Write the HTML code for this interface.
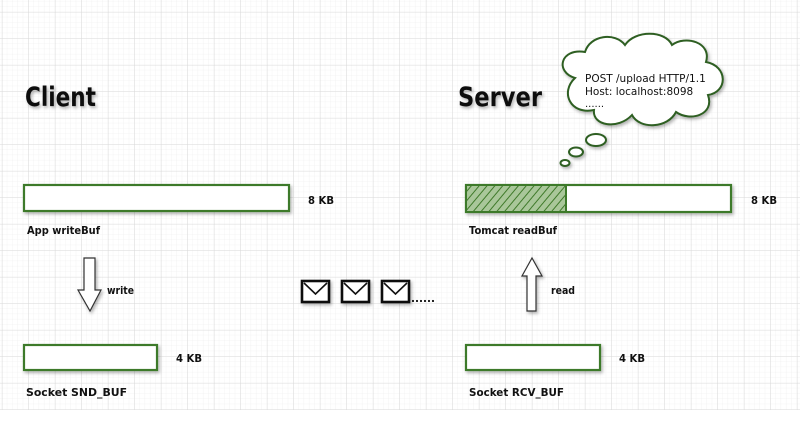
<!DOCTYPE html>
<html><head><meta charset="utf-8"><style>
html,body{margin:0;padding:0;background:#fff}
svg{display:block}
text{font-family:"DejaVu Sans","Liberation Sans",sans-serif;fill:#111}
.l{font-weight:bold;font-size:10.5px}
</style></head><body>
<svg width="811" height="423" viewBox="0 0 811 423" xmlns="http://www.w3.org/2000/svg">
<defs>
<pattern id="minor" x="2" y="12" width="5.3" height="5.3" patternUnits="userSpaceOnUse">
<path d="M5.3 0V5.3M0 5.3H5.3" stroke="#ececec" stroke-width="0.6" fill="none"/>
</pattern>
<pattern id="major" x="2" y="12" width="26.5" height="26.5" patternUnits="userSpaceOnUse">
<path d="M0 0V26.5M0 0H26.5" stroke="#d8d8d8" stroke-width="0.8" fill="none"/>
</pattern>
<pattern id="hatch" width="6" height="6" patternUnits="userSpaceOnUse" patternTransform="rotate(40)">
<rect width="6" height="6" fill="#a9c79a"/>
<line x1="0" y1="0" x2="0" y2="6" stroke="#3f7a2a" stroke-width="2"/>
</pattern>
<filter id="sh" x="-10%" y="-20%" width="130%" height="150%"><feDropShadow dx="1.5" dy="2" stdDeviation="1.5" flood-color="#000" flood-opacity="0.3"/></filter>
</defs>
<rect x="0" y="0" width="800" height="410" fill="url(#minor)"/>
<rect x="0" y="0" width="800" height="410" fill="url(#major)"/>

<text x="25" y="106" font-size="27" font-weight="bold" textLength="71" lengthAdjust="spacingAndGlyphs" filter="url(#sh)">Client</text>
<text x="458" y="106" font-size="27" font-weight="bold" textLength="84" lengthAdjust="spacingAndGlyphs" filter="url(#sh)">Server</text>

<rect x="24" y="185" width="265" height="26" fill="#fff" stroke="#3d7a2a" stroke-width="2.2" filter="url(#sh)"/>
<text x="308" y="204" class="l" textLength="26" lengthAdjust="spacingAndGlyphs">8 KB</text>
<text x="27" y="234" class="l" textLength="73" lengthAdjust="spacingAndGlyphs">App writeBuf</text>

<rect x="466" y="185" width="265" height="27" fill="#fff" stroke="#3d7a2a" stroke-width="2.2" filter="url(#sh)"/>
<rect x="467" y="186" width="99" height="25" fill="url(#hatch)"/>
<line x1="566" y1="185" x2="566" y2="212" stroke="#3d7a2a" stroke-width="2"/>
<text x="751" y="204" class="l" textLength="26" lengthAdjust="spacingAndGlyphs">8 KB</text>
<text x="469" y="234" class="l" textLength="88" lengthAdjust="spacingAndGlyphs">Tomcat readBuf</text>

<g filter="url(#sh)" fill="#fff" stroke="#2e5e22" stroke-width="2">
<path d="M575 78 C555 72 560 48 585 52 C590 35 615 32 625 45 C635 30 665 30 672 45 C685 35 712 42 706 62 C728 66 728 92 708 95 C715 115 690 122 676 112 C668 128 640 130 632 115 C618 130 592 126 594 110 C570 115 560 92 575 78 Z"/>
<ellipse cx="596" cy="140" rx="10" ry="6"/>
<ellipse cx="576" cy="152" rx="7" ry="4.5"/>
<ellipse cx="565" cy="163" rx="4.5" ry="3"/>
</g>
<text x="585" y="82" font-size="10.5" font-family="Liberation Sans">POST /upload HTTP/1.1</text>
<text x="585" y="95" font-size="10.5" font-family="Liberation Sans">Host: localhost:8098</text>
<text x="585" y="107" font-size="10" font-family="Liberation Sans">......</text>

<path d="M84 258 H95 V290 H101 L90 311 L78 290 H84 Z" fill="#fff" stroke="#333" stroke-width="1.2" filter="url(#sh)"/>
<text x="107" y="294" class="l" textLength="27" lengthAdjust="spacingAndGlyphs">write</text>

<path d="M527 311 H536 V276 H542 L532 258 L522 276 H527 Z" fill="#fff" stroke="#333" stroke-width="1.2" filter="url(#sh)"/>
<text x="551" y="294" class="l" textLength="24" lengthAdjust="spacingAndGlyphs">read</text>

<g fill="#fff" stroke="#111" stroke-width="2.6" filter="url(#sh)">
<rect x="302" y="281" width="27" height="21"/>
<rect x="342" y="281" width="27" height="21"/>
<rect x="382" y="281" width="27" height="21"/>
</g>
<g fill="none" stroke="#111" stroke-width="1.6">
<path d="M304 283 L315.5 294 L327 283"/>
<path d="M344 283 L355.5 294 L367 283"/>
<path d="M384 283 L395.5 294 L407 283"/>
</g>
<text x="411" y="302" class="l" font-size="11">......</text>

<rect x="24" y="345" width="133" height="25" fill="#fff" stroke="#3d7a2a" stroke-width="2.2" filter="url(#sh)"/>
<text x="176" y="362" class="l" textLength="26" lengthAdjust="spacingAndGlyphs">4 KB</text>
<text x="26" y="396" class="l" textLength="101" lengthAdjust="spacingAndGlyphs">Socket SND_BUF</text>
<rect x="466" y="345" width="134" height="25" fill="#fff" stroke="#3d7a2a" stroke-width="2.2" filter="url(#sh)"/>
<text x="619" y="362" class="l" textLength="26" lengthAdjust="spacingAndGlyphs">4 KB</text>
<text x="469" y="396" class="l" textLength="95" lengthAdjust="spacingAndGlyphs">Socket RCV_BUF</text>
</svg>
</body></html>
